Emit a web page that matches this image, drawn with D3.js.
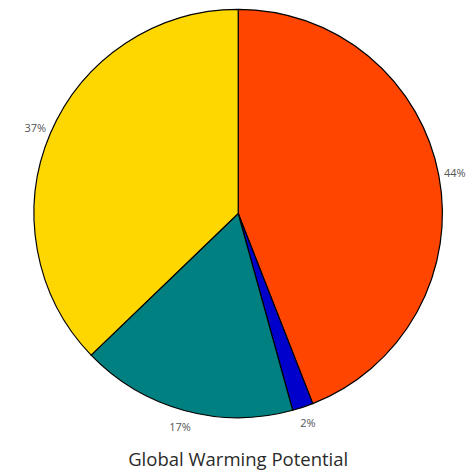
<!DOCTYPE html>
<html>
<head>
<meta charset="utf-8">
<script src="https://cdn.jsdelivr.net/npm/d3@7"></script>
<style>
  html, body { margin: 0; padding: 0; background: #fff; }
  svg { display: block; }
</style>
</head>
<body>
<svg id="chart" width="474" height="473"></svg>
<script>
// Data (clockwise from 12 o'clock)
const categories = ["A", "B", "C", "D"];
const values = [44.05, 1.65, 17.1, 37.2];
const labels = ["44%", "2%", "17%", "37%"];
const colors = ["#FF4500", "#0000CD", "#008080", "#FFD700"];
const title = "Global Warming Potential";

const svg = d3.select("#chart");
const cx = 238.2, cy = 213.5, r = 204.2, labelR = 220.5;

const g = svg.append("g").attr("transform", `translate(${cx},${cy})`);

const pie = d3.pie().sort(null).value(d => d.value);
const data = categories.map((c, i) => ({ cat: c, value: values[i], label: labels[i], color: colors[i] }));
const arcs = pie(data);
const arc = d3.arc().innerRadius(0).outerRadius(r);
const labelArc = d3.arc().innerRadius(labelR).outerRadius(labelR);

g.selectAll("path.slice")
  .data(arcs)
  .join("path")
  .attr("class", "slice")
  .attr("d", arc)
  .attr("fill", d => d.data.color)
  .attr("stroke", "#000")
  .attr("stroke-width", 1.2)
  .attr("stroke-linejoin", "round");

g.selectAll("text.lbl")
  .data(arcs)
  .join("text")
  .attr("class", "lbl")
  .attr("transform", d => `translate(${labelArc.centroid(d)})`)
  .attr("text-anchor", "middle")
  .attr("dominant-baseline", "central")
  .attr("font-family", "'Open Sans', sans-serif")
  .attr("font-size", 11)
  .attr("fill", "#555")
  .text(d => d.data.label);

svg.append("text")
  .attr("x", cx)
  .attr("y", 466)
  .attr("text-anchor", "middle")
  .attr("font-family", "'Open Sans', sans-serif")
  .attr("font-size", 18.5)
  .attr("fill", "#2a2a2a")
  .text(title);
</script>
</body>
</html>
